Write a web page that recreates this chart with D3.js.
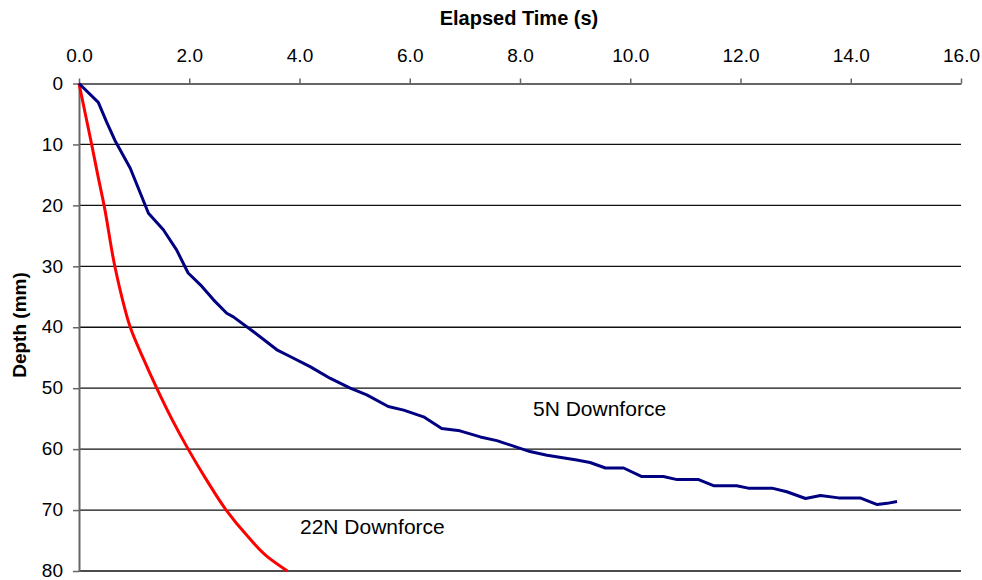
<!DOCTYPE html>
<html lang="en">
<head>
  <meta charset="UTF-8">
  <title>Depth vs Elapsed Time</title>
  <script src="https://d3js.org/d3.v7.min.js"></script>
  <style>
    body { margin: 0; background: #fff; }
    text { font-family: "Liberation Sans", Arial, sans-serif; fill: #000; }
    .axis-title { font-weight: bold; }
    .series-label { font-size: 21px; }
  </style>
</head>
<body>
  <script>
    // 5N downforce run
    var time5N  = [0, 0.35, 0.50, 0.65, 0.93, 1.26, 1.53, 1.77, 1.98, 2.23, 2.44, 2.68, 2.80, 3.16, 3.59, 3.83,
                   4.20, 4.56, 4.92, 5.22, 5.61, 5.89, 6.25, 6.58, 6.91, 7.28, 7.58, 8.18, 8.49, 9.03, 9.27,
                   9.55, 9.88, 10.21, 10.60, 10.85, 11.24, 11.51, 11.93, 12.14, 12.57, 12.84, 13.18, 13.45,
                   13.78, 14.17, 14.48, 14.66, 14.84];
    var depth5N = [0, 3.1, 6.3, 9.3, 13.9, 21.3, 24.0, 27.3, 31.1, 33.3, 35.5, 37.7, 38.3, 40.7, 43.7, 44.8,
                   46.5, 48.4, 50.0, 51.1, 53.0, 53.6, 54.7, 56.6, 57.0, 58.0, 58.6, 60.4, 61.0, 61.8, 62.2,
                   63.1, 63.1, 64.5, 64.5, 65.0, 65.0, 66.0, 66.0, 66.4, 66.4, 67.0, 68.1, 67.6,
                   68.0, 68.0, 69.1, 68.9, 68.6];

    // 22N downforce run
    var time22N  = [0, 0.23, 0.34, 0.455, 0.65, 0.79, 0.93, 1.16, 1.41, 1.68, 1.98, 2.31, 2.67, 3.04, 3.41, 3.78];
    var depth22N = [0, 10.0, 15.0, 20.0, 30.0, 35.5, 40.0, 45.0, 50.0, 55.0, 60.0, 65.0, 70.0, 74.1, 77.6, 80.0];

    var xTicks = [0, 2, 4, 6, 8, 10, 12, 14, 16];
    var yTicks = [0, 10, 20, 30, 40, 50, 60, 70, 80];

    var w = 982;
    var h = 580;
    var plotLeft = 79, plotRight = 961, plotTop = 83.5, plotBottom = 571;

    var svg = d3.select("body")
      .append("svg")
      .attr("width", w)
      .attr("height", h);

    var x = d3.scaleLinear().domain([0, 16]).range([plotLeft, plotRight]);
    var y = d3.scaleLinear().domain([0, 80]).range([plotTop, plotBottom]);

    // horizontal gridlines
    svg.append("g")
      .selectAll("line")
      .data(yTicks.slice(1))
      .enter()
      .append("line")
      .attr("x1", plotLeft)
      .attr("x2", plotRight)
      .attr("y1", function(d) { return y(d); })
      .attr("y2", function(d) { return y(d); })
      .attr("stroke", "#111")
      .attr("stroke-width", 1.3);

    // top axis
    var xAxis = d3.axisTop(x)
      .tickValues(xTicks)
      .tickSize(5)
      .tickSizeOuter(0)
      .tickPadding(17)
      .tickFormat(d3.format(".1f"));
    var gx = svg.append("g")
      .attr("transform", "translate(0," + plotTop + ")")
      .call(xAxis);
    gx.select(".domain").attr("stroke", "#666").attr("stroke-width", 2);
    gx.selectAll(".tick line").attr("stroke", "#666").attr("stroke-width", 1.5);
    gx.selectAll(".tick text").attr("font-size", 19);

    // left axis
    var yAxis = d3.axisLeft(y)
      .tickValues(yTicks)
      .tickSize(6)
      .tickSizeOuter(0)
      .tickPadding(10);
    var gy = svg.append("g")
      .attr("transform", "translate(" + plotLeft + ",0)")
      .call(yAxis);
    gy.select(".domain").attr("stroke", "#666").attr("stroke-width", 2);
    gy.selectAll(".tick line").attr("stroke", "#666").attr("stroke-width", 1.5);
    gy.selectAll(".tick text").attr("font-size", 19).attr("dy", "0.3em");

    // lines
    var line = d3.line()
      .x(function(d) { return x(d[0]); })
      .y(function(d) { return y(d[1]); });

    svg.append("path")
      .datum(d3.zip(time22N, depth22N))
      .attr("d", line.curve(d3.curveMonotoneY))
      .attr("fill", "none")
      .attr("stroke", "#ff0000")
      .attr("stroke-width", 3)
      .attr("stroke-linejoin", "round");

    svg.append("path")
      .datum(d3.zip(time5N, depth5N))
      .attr("d", line.curve(d3.curveLinear))
      .attr("fill", "none")
      .attr("stroke", "#000080")
      .attr("stroke-width", 3)
      .attr("stroke-linejoin", "round");

    // axis titles
    svg.append("text")
      .attr("class", "axis-title")
      .attr("x", 519)
      .attr("y", 25)
      .attr("font-size", 20)
      .attr("text-anchor", "middle")
      .text("Elapsed Time (s)");

    svg.append("text")
      .attr("class", "axis-title")
      .attr("transform", "translate(26,325) rotate(-90)")
      .attr("font-size", 19)
      .attr("text-anchor", "middle")
      .text("Depth (mm)");

    // series labels
    svg.append("text")
      .attr("class", "series-label")
      .attr("x", 533)
      .attr("y", 416)
      .text("5N Downforce");

    svg.append("text")
      .attr("class", "series-label")
      .attr("x", 300)
      .attr("y", 534)
      .text("22N Downforce");
  </script>
</body>
</html>
